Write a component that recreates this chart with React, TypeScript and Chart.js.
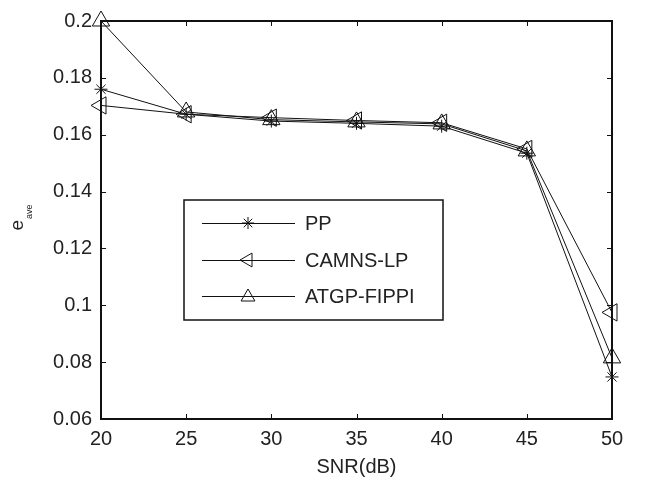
import React, { useEffect, useRef } from 'react';
import { Chart, registerables } from 'chart.js';
Chart.register(...registerables);

const snr = [20, 25, 30, 35, 40, 45, 50];
const ppValues = [0.176, 0.1672, 0.1648, 0.164, 0.163, 0.1535, 0.0748];
const camnsValues = [0.1703, 0.1672, 0.166, 0.165, 0.1642, 0.155, 0.0975];
const atgpValues = [0.2, 0.168, 0.1653, 0.1645, 0.1638, 0.1543, 0.0815];
const seriesNames = ['PP', 'CAMNS-LP', 'ATGP-FIPPI'];
const xTickValues = [20, 25, 30, 35, 40, 45, 50];
const yTickValues = [0.06, 0.08, 0.1, 0.12, 0.14, 0.16, 0.18, 0.2];
const xTitle = 'SNR(dB)';
const yTitleMain = 'e';
const yTitleSub = 'ave';

const FONT = '"Liberation Sans", Arial, Helvetica, sans-serif';

function drawStar(ctx: CanvasRenderingContext2D, x: number, y: number, r: number) {
  ctx.beginPath();
  for (let i = 0; i < 4; i++) {
    const a = (i * Math.PI) / 4;
    ctx.moveTo(x - Math.cos(a) * r, y - Math.sin(a) * r);
    ctx.lineTo(x + Math.cos(a) * r, y + Math.sin(a) * r);
  }
  ctx.stroke();
}

function drawTri(ctx: CanvasRenderingContext2D, x: number, y: number, r: number, rotDeg: number) {
  ctx.save();
  ctx.translate(x, y);
  ctx.rotate((rotDeg * Math.PI) / 180);
  ctx.beginPath();
  for (let i = 0; i < 3; i++) {
    const a = (i * 2 * Math.PI) / 3;
    const px = Math.sin(a) * r;
    const py = -Math.cos(a) * r;
    if (i === 0) ctx.moveTo(px, py);
    else ctx.lineTo(px, py);
  }
  ctx.closePath();
  ctx.stroke();
  ctx.restore();
}

const decorPlugin = {
  id: 'decor',
  afterDraw(chart: any) {
    const ctx: CanvasRenderingContext2D = chart.ctx;
    const { left, right, top, bottom } = chart.chartArea;
    const xs = chart.scales.x;
    const ys = chart.scales.y;
    ctx.save();
    ctx.strokeStyle = '#111';
    ctx.lineWidth = 1;
    const tl = 5;
    ctx.beginPath();
    xTickValues.forEach((v) => {
      const px = Math.round(xs.getPixelForValue(v)) + 0.5;
      ctx.moveTo(px, bottom);
      ctx.lineTo(px, bottom - tl);
      ctx.moveTo(px, top);
      ctx.lineTo(px, top + tl);
    });
    yTickValues.forEach((v) => {
      const py = Math.round(ys.getPixelForValue(v)) + 0.5;
      ctx.moveTo(left, py);
      ctx.lineTo(left + tl, py);
      ctx.moveTo(right, py);
      ctx.lineTo(right - tl, py);
    });
    ctx.stroke();
    ctx.lineWidth = 2;
    ctx.strokeStyle = '#111';
    ctx.strokeRect(left, top, right - left, bottom - top);

    // legend
    const lx0 = 184, ly0 = 200, lx1 = 443, ly1 = 320;
    ctx.fillStyle = '#fff';
    ctx.fillRect(lx0, ly0, lx1 - lx0, ly1 - ly0);
    ctx.lineWidth = 1.5;
    ctx.strokeRect(lx0, ly0, lx1 - lx0, ly1 - ly0);
    const rows = [223, 260, 296];
    ctx.font = `20px ${FONT}`;
    ctx.textBaseline = 'middle';
    ctx.textAlign = 'left';
    rows.forEach((ry, i) => {
      ctx.lineWidth = 1;
      ctx.strokeStyle = '#111';
      ctx.beginPath();
      ctx.moveTo(202, ry + 0.5);
      ctx.lineTo(295, ry + 0.5);
      ctx.stroke();
      if (i === 0) drawStar(ctx, 248, ry, 6);
      else if (i === 1) drawTri(ctx, 248, ry, 8, -90);
      else drawTri(ctx, 248, ry + 1, 8, 0);
      ctx.fillStyle = '#222';
      ctx.fillText(seriesNames[i], 305, ry + 1);
    });

    // x title
    ctx.fillStyle = '#222';
    ctx.font = `20px ${FONT}`;
    ctx.textAlign = 'center';
    ctx.textBaseline = 'alphabetic';
    ctx.fillText(xTitle, (left + right) / 2, 473);

    // y title rotated
    ctx.save();
    ctx.translate(23, 218);
    ctx.rotate(-Math.PI / 2);
    ctx.font = `19px ${FONT}`;
    const we = ctx.measureText(yTitleMain).width;
    ctx.font = `9px ${FONT}`;
    const ws = ctx.measureText(yTitleSub).width;
    const x0 = -(we + ws) / 2;
    ctx.textAlign = 'left';
    ctx.font = `19px ${FONT}`;
    ctx.fillText(yTitleMain, x0, 0);
    ctx.font = `9px ${FONT}`;
    ctx.fillText(yTitleSub, x0 + we + 1, 9);
    ctx.restore();
    ctx.restore();
  },
};

export default function App() {
  const ref = useRef<HTMLCanvasElement>(null);
  useEffect(() => {
    if (!ref.current) return;
    const mk = (data: number[]) => snr.map((x, i) => ({ x, y: data[i] }));
    const common = {
      borderColor: '#111',
      borderWidth: 1,
      pointBorderColor: '#111',
      pointBackgroundColor: 'rgba(0,0,0,0)',
      pointBorderWidth: 1,
      fill: false,
      tension: 0,
      clip: false as any,
    };
    const chart = new Chart(ref.current, {
      type: 'line',
      data: {
        datasets: [
          { ...common, label: seriesNames[0], data: mk(ppValues), pointStyle: 'star', pointRadius: 6.5 },
          { ...common, label: seriesNames[1], data: mk(camnsValues), pointStyle: 'triangle', pointRotation: -90, pointRadius: 10 },
          { ...common, label: seriesNames[2], data: mk(atgpValues), pointStyle: 'triangle', pointRadius: 10 },
        ],
      },
      options: {
        animation: false,
        responsive: false,
        layout: { padding: { top: 14, right: 33, left: 0, bottom: 0 } },
        plugins: { legend: { display: false }, tooltip: { enabled: false } },
        scales: {
          x: {
            type: 'linear',
            min: 20,
            max: 50,
            afterBuildTicks: (s: any) => { s.ticks = xTickValues.map((v) => ({ value: v })); },
            afterFit: (s: any) => { s.height = 61; },
            grid: { display: false, drawTicks: false },
            border: { display: false },
            ticks: { color: '#222', font: { family: FONT, size: 20 }, padding: 8, maxRotation: 0, autoSkip: false, callback: (v: any) => String(v) },
          },
          y: {
            type: 'linear',
            min: 0.06,
            max: 0.2,
            afterBuildTicks: (s: any) => { s.ticks = yTickValues.map((v) => ({ value: v })); },
            afterFit: (s: any) => { s.width = 101; },
            grid: { display: false, drawTicks: false },
            border: { display: false },
            ticks: { color: '#222', font: { family: FONT, size: 20 }, padding: 9, autoSkip: false, callback: (v: any) => String(Number(Number(v).toFixed(2))) },
          },
        },
      },
      plugins: [decorPlugin],
    });
    return () => chart.destroy();
  }, []);
  return (
    <div style={{ position: 'absolute', left: 0, top: 0, width: 645, height: 480, background: '#fff' }}>
      <canvas ref={ref} width={645} height={480} style={{ display: 'block' }} />
    </div>
  );
}
